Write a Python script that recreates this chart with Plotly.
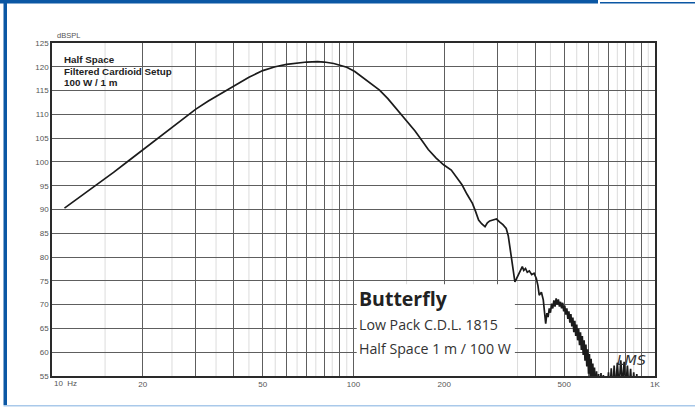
import plotly.graph_objects as go

# ---------------- data ----------------
freq_hz = [11, 12, 13, 14, 15, 16, 18, 20, 22.5, 25, 27.5, 30, 33, 36, 40, 45, 50, 55, 60, 65,
           70, 76, 80, 86, 90, 95, 101, 107, 113, 122, 130, 140, 150, 160, 170, 177, 188, 199,
           211, 220, 229, 238, 248, 254, 260, 266, 273, 278, 283, 290, 298, 305, 313, 321, 326,
           330, 336, 343, 347, 352, 357, 363, 367, 372, 377, 383, 390, 397, 404, 409, 413, 420,
           426, 430, 434, 438, 442, 446, 450, 454, 458, 462, 466, 470, 474, 478, 482, 486, 490,
           494, 498, 502, 506, 510, 514, 518, 522, 526, 530, 534, 538, 542, 546, 550, 554, 558,
           562, 566, 570, 574, 578, 582, 586, 590, 594, 598, 602, 606, 610, 614, 618, 622, 626,
           630, 635, 640, 645, 650, 656, 662, 668, 674, 680, 687, 694, 701, 708, 716, 724, 732,
           740, 750, 760, 770, 780, 790, 800, 810, 820, 830, 840, 850, 860, 870, 880, 890, 900,
           920, 940, 960]
spl_db = [90.3, 92.0, 93.6, 95.1, 96.5, 97.8, 100.3, 102.5, 105.0, 107.2, 109.2, 111.1, 112.8,
          114.2, 115.8, 117.8, 119.2, 120.0, 120.5, 120.8, 121.0, 121.1, 121.0, 120.7, 120.4,
          119.9, 119.0, 117.8, 116.6, 115.1, 113.3, 110.9, 108.6, 106.5, 104.2, 102.6, 100.8,
          99.4, 98.3, 96.8, 95.2, 93.2, 91.3, 89.6, 87.8, 87.0, 86.4, 87.2, 87.6, 87.8, 88.0,
          87.4, 86.8, 86.0, 84.5, 82.2, 78.5, 74.8, 75.4, 76.2, 77.3, 78.0, 77.2, 77.6, 76.8,
          77.1, 76.3, 76.6, 75.5, 74.0, 72.0, 72.6,
          71.0, 68.0, 66.0, 68.2, 67.4, 69.2, 68.3, 70.2, 69.2, 70.9, 69.6, 71.3, 70.0, 71.1,
          69.6, 70.6, 69.2, 70.4, 68.6, 69.8, 67.9, 69.2, 67.0, 68.6, 66.2, 68.0, 65.4, 67.3,
          64.2, 66.6, 63.4, 65.8, 62.5, 65.0, 61.5, 64.2, 60.5, 63.4, 59.4, 62.5, 58.2, 61.6,
          57.0, 60.6, 55.5, 59.6, 54.0, 58.6, 53.0, 57.6, 52.0, 56.8, 51.0, 56.0, 50.0, 55.4,
          50.5, 55.6, 50.0, 55.2, 50.0, 55.0, 50.5, 55.8, 51.0, 56.6, 51.5, 57.2, 52.0, 57.8,
          52.5, 58.3, 53.0, 58.0, 52.5, 57.2, 52.0, 56.5, 51.0, 55.8, 50.5, 55.4, 50.0, 55.0,
          50.0, 54.0, 49.0]

x_major = [10, 20, 30, 40, 50, 60, 70, 80, 90, 100, 200, 300, 400, 500, 600, 700, 800, 900, 1000]
x_major_text = ["", "20", "", "", "50", "", "", "", "", "100", "200", "", "", "500", "", "", "", "", "1K"]
x_minor = [15, 25, 35, 45, 55, 65, 75, 85, 95, 150, 250, 350, 450, 550, 650, 750, 850, 950]
y_ticks = [55, 60, 65, 70, 75, 80, 85, 90, 95, 100, 105, 110, 115, 120, 125]

header_lines = ["Half Space", "Filtered Cardioid Setup", "100 W / 1 m"]
box_title = "Butterfly"
box_lines = ["Low Pack C.D.L. 1815", "Half Space 1 m / 100 W"]

# ---------------- layout helpers ----------------
W, H = 695, 409
L, R, T, B = 52, 655, 43, 376


def px(x):
    return (x - L) / (R - L)


def py(y):
    return (B - y) / (B - T)


fig = go.Figure()
fig.add_trace(go.Scatter(x=freq_hz, y=spl_db, mode="lines",
                         line=dict(color="#1b1b1b", width=1.7), hoverinfo="skip"))

# faint half-step grid lines (below the main grid)
shapes = [dict(type="line", xref="x", yref="paper", x0=f, x1=f, y0=0, y1=1,
               line=dict(color="#dcdcdc", width=1), layer="below") for f in x_minor]

shapes += [
    # white label box over the grid (between grid and curve)
    dict(type="rect", xref="x", yref="y", x0=102.5, x1=343, y0=55, y1=74.3,
         fillcolor="white", line=dict(width=0), layer="between"),
    # frame decorations
    dict(type="rect", xref="paper", yref="paper", x0=px(0), x1=px(598), y0=py(3.5), y1=py(-1),
         fillcolor="#0b57a4", line=dict(width=0)),
    dict(type="rect", xref="paper", yref="paper", x0=px(600), x1=px(696), y0=py(3.5), y1=py(2),
         fillcolor="#0b57a4", line=dict(width=0)),
    dict(type="rect", xref="paper", yref="paper", x0=px(3.5), x1=px(7), y0=py(405), y1=py(0),
         fillcolor="#0b57a4", line=dict(width=0)),
    dict(type="rect", xref="paper", yref="paper", x0=px(3.5), x1=px(696), y0=py(406.5), y1=py(405),
         fillcolor="#a9c9ea", line=dict(width=0)),
]

annotations = [
    dict(text="dBSPL", x=px(55), y=py(36), xanchor="left", yanchor="middle",
         font=dict(family="Liberation Sans", size=7.5, color="#555")),
    dict(text="10  Hz", x=px(52), y=py(384), xanchor="left", yanchor="middle",
         font=dict(family="Liberation Sans", size=8, color="#555")),
    dict(text="<i>LMS</i>", x=px(631), y=py(360), xanchor="center", yanchor="middle",
         font=dict(family="DejaVu Sans", size=14, color="#333")),
    dict(text="<b>" + box_title + "</b>", x=px(357), y=py(298), xanchor="left", yanchor="middle",
         font=dict(family="Open Sans", size=19.5, color="#222")),
]
for i, t in enumerate(header_lines):
    annotations.append(dict(text="<b>" + t + "</b>", x=px(62), y=py(59.5 + 11.5 * i),
                            xanchor="left", yanchor="middle",
                            font=dict(family="Liberation Sans", size=9.8, color="#222")))
for i, t in enumerate(box_lines):
    annotations.append(dict(text=t, x=px(357), y=py(324 + 24.5 * i),
                            xanchor="left", yanchor="middle",
                            font=dict(family="Open Sans", size=14.2, color="#333")))
for a in annotations:
    a.update(xref="paper", yref="paper", showarrow=False)

fig.update_layout(
    width=W, height=H, autosize=False,
    margin=dict(l=L, r=W - R, t=T, b=H - B, pad=0),
    paper_bgcolor="white", plot_bgcolor="white",
    showlegend=False,
    shapes=shapes, annotations=annotations,
    xaxis=dict(type="log", range=[1, 3], tickmode="array", tickvals=x_major, ticktext=x_major_text,
               showgrid=True, gridcolor="#5e5e5e", gridwidth=1.3,
               showline=True, mirror=True, linecolor="#2a2a2a", linewidth=1.6,
               ticks="", zeroline=False, tickangle=0,
               tickfont=dict(family="Liberation Sans", size=8, color="#555")),
    yaxis=dict(range=[55, 125], tickmode="array", tickvals=y_ticks, ticktext=[str(v) for v in y_ticks],
               showgrid=True, gridcolor="#5e5e5e", gridwidth=1.3,
               showline=True, mirror=True, linecolor="#2a2a2a", linewidth=1.6,
               ticks="", zeroline=False,
               tickfont=dict(family="Liberation Sans", size=8, color="#555")),
)

fig.write_html("out.html", config={"displayModeBar": False},
               post_script="document.body.style.margin='0';")
